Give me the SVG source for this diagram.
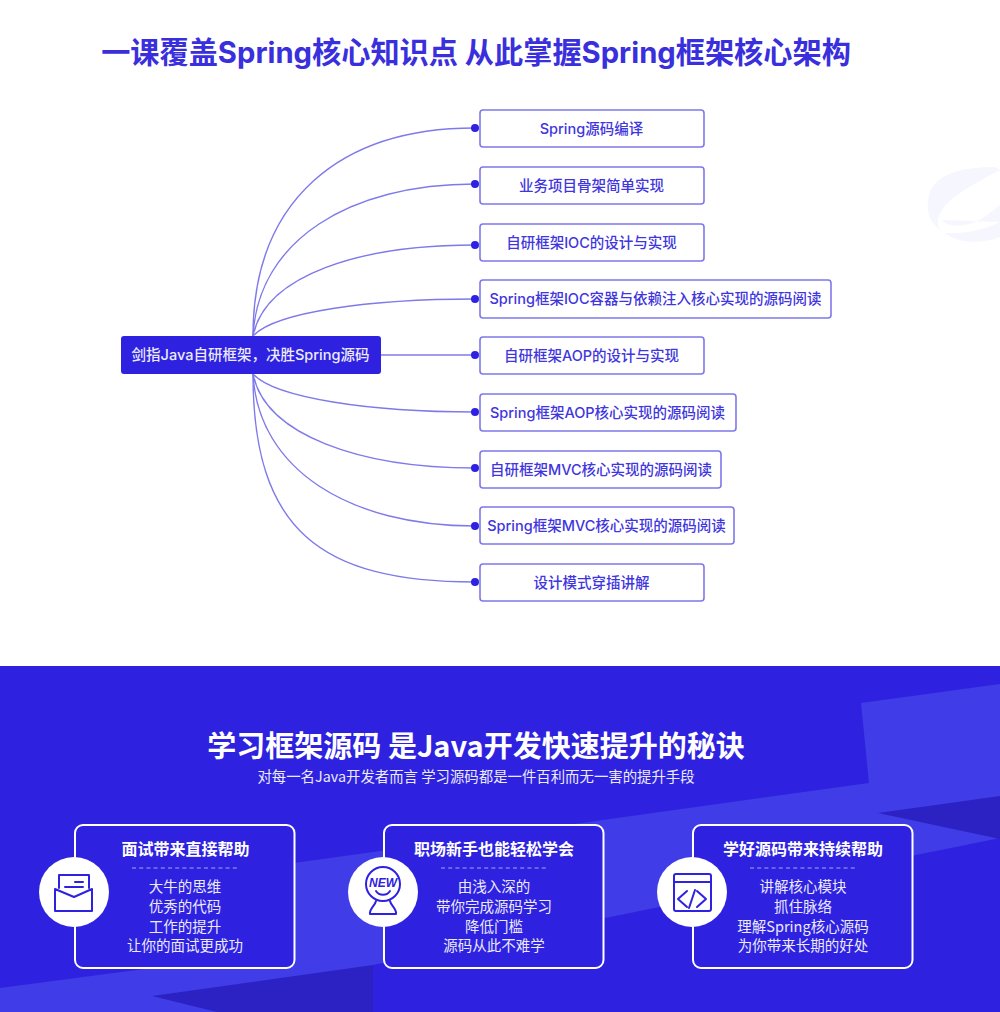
<svg xmlns="http://www.w3.org/2000/svg" width="1000" height="1012" viewBox="0 0 1000 1012">
<style>
text{font-family:"Noto Sans CJK SC","Noto Sans",sans-serif;text-anchor:middle}
.l{font-family:Inter,"Noto Sans CJK SC",sans-serif}
.n rect{fill:#fff;stroke:#7d78ea;stroke-width:1.6}
.n text{font-size:14.5px;font-weight:500;fill:#3f36de}
.c path{fill:none;stroke:#7f7aea;stroke-width:1.4}
.c circle{fill:#2e22e0}
.f{fill:#2e22e0;stroke:#fff;stroke-width:2}
.h{font-size:16px;font-weight:700;fill:#fff}
.b{font-size:14.5px;fill:#eceafd}
.d{stroke:#a8a4f3;stroke-width:1.2;stroke-dasharray:4 3.2}
.i{fill:none;stroke:#2e22e0;stroke-width:2;stroke-linejoin:round;stroke-linecap:round}
</style>
<rect width="1000" height="1012" fill="#fff"/>
<path d="M995 167C965 167 932 172 928 200C926 214 932 224 940 230C934 218 942 205 960 193C975 183 990 175 1000 170Z" fill="#f6f6fe"/>
<path d="M942 220C950 230 975 226 990 213L1000 205V222C985 230 965 234 945 233C960 245 985 243 1000 237V222Z" fill="#f6f6fe"/>
<text class="l" x="476" y="63" font-size="29.200" font-weight="700" fill="#3a2fdd">一课覆盖Spring核心知识点 从此掌握Spring框架核心架构</text>
<g class="c" id="connectors">
<path d="M253 336C253 200 340 128 475 128"/>
<path d="M253 336C258 240 350 184 475 184"/>
<path d="M253 336C265 275 360 245 475 245"/>
<path d="M253 336C275 312 370 299 475 299"/>
<path d="M381 355H475"/>
<path d="M253 374C275 398 370 412 475 412"/>
<path d="M253 374C265 435 360 468 475 468"/>
<path d="M253 374C258 470 350 526 475 526"/>
<path d="M253 374C253 530 320 582 475 582"/>
<circle cx="475" cy="128" r="4"/><circle cx="475" cy="184" r="4"/><circle cx="475" cy="245" r="4"/><circle cx="475" cy="299" r="4"/><circle cx="475" cy="355" r="4"/><circle cx="475" cy="412" r="4"/><circle cx="475" cy="468" r="4"/><circle cx="475" cy="526" r="4"/><circle cx="475" cy="582" r="4"/>
</g>
<g id="root"><rect x="121" y="336" width="260" height="38" rx="3" fill="#2e22e0"/><text class="l" x="250.500" y="360" font-size="14.500" font-weight="500" fill="#eceafd">剑指Java自研框架，决胜Spring源码</text></g>
<g class="n" id="n1"><rect x="480" y="110" width="224" height="37" rx="3"/><text class="l" x="591.500" y="134">Spring源码编译</text></g>
<g class="n" id="n2"><rect x="480" y="167" width="224" height="37" rx="3"/><text class="l" x="591.500" y="191">业务项目骨架简单实现</text></g>
<g class="n" id="n3"><rect x="480" y="224" width="224" height="37" rx="3"/><text class="l" x="591.500" y="248">自研框架IOC的设计与实现</text></g>
<g class="n" id="n4"><rect x="480" y="280" width="351" height="38" rx="3"/><text class="l" x="655.500" y="304">Spring框架IOC容器与依赖注入核心实现的源码阅读</text></g>
<g class="n" id="n5"><rect x="480" y="337" width="224" height="37" rx="3"/><text class="l" x="591.500" y="361">自研框架AOP的设计与实现</text></g>
<g class="n" id="n6"><rect x="480" y="394" width="256" height="37" rx="3"/><text class="l" x="607.500" y="418">Spring框架AOP核心实现的源码阅读</text></g>
<g class="n" id="n7"><rect x="480" y="451" width="241" height="37" rx="3"/><text class="l" x="601" y="475">自研框架MVC核心实现的源码阅读</text></g>
<g class="n" id="n8"><rect x="480" y="507" width="254" height="37" rx="3"/><text class="l" x="606.500" y="531">Spring框架MVC核心实现的源码阅读</text></g>
<g class="n" id="n9"><rect x="480" y="564" width="224" height="37" rx="3"/><text class="l" x="591.500" y="588">设计模式穿插讲解</text></g>
<rect y="666" width="1000" height="346" fill="#2e22e0"/>
<path d="M861 703L1000 684V838L373 965V1012H0V988L250 955V869L869 783Z" fill="#3f3ce8"/>
<path d="M878 813L1000 796V839Z" fill="#2c22c4"/>
<path d="M152 996L373 965V1012H217Z" fill="#2c22c4"/>
<text x="476" y="757" font-size="29" font-weight="700" fill="#fff">学习框架源码 是Java开发快速提升的秘诀</text>
<text x="476" y="782" font-size="14.4" fill="#eceafd">对每一名Java开发者而言 学习源码都是一件百利而无一害的提升手段</text>
<g class="card" id="card1"><rect class="f" x="75" y="825" width="219.500" height="143" rx="8"/><circle cx="74" cy="892" r="35" fill="#fff"/>
<text class="h" x="185.500" y="855">面试带来直接帮助</text><line class="d" x1="132" y1="868" x2="238" y2="868"/>
<text class="b" x="185" y="892">大牛的思维</text><text class="b" x="185" y="912">优秀的代码</text><text class="b" x="185" y="932">工作的提升</text><text class="b" x="185" y="951">让你的面试更成功</text>
<path class="i" d="M59 888V875H89V888M55 889V911H92V889L74 897ZM65 887H83M75 882H83"/></g>
<g class="card" id="card2"><rect class="f" x="384" y="825" width="219.500" height="143" rx="8"/><circle cx="383" cy="892" r="35" fill="#fff"/>
<text class="h" x="494" y="855">职场新手也能轻松学会</text><line class="d" x1="441" y1="868" x2="547" y2="868"/>
<text class="b" x="494" y="892">由浅入深的</text><text class="b" x="494" y="912">带你完成源码学习</text><text class="b" x="494" y="932">降低门槛</text><text class="b" x="494" y="951">源码从此不难学</text>
<circle class="i" cx="383" cy="884" r="17"/><path class="i" d="M376 891C379 896 387 896 390 891M376 901C375 906 369 909 370 914H396C397 909 391 906 390 901"/>
<text x="383" y="887" font-size="12" font-weight="700" font-style="italic" style="font-family:'Liberation Sans',sans-serif" fill="#2e22e0">NEW</text></g>
<g class="card" id="card3"><rect class="f" x="693" y="825" width="219.500" height="143" rx="8"/><circle cx="692" cy="892" r="35" fill="#fff"/>
<text class="h" x="803" y="855">学好源码带来持续帮助</text><line class="d" x1="750" y1="868" x2="856" y2="868"/>
<text class="b" x="803" y="892">讲解核心模块</text><text class="b" x="803" y="912">抓住脉络</text><text class="b" x="803" y="932">理解Spring核心源码</text><text class="b" x="803" y="951">为你带来长期的好处</text>
<rect class="i" x="674" y="874" width="37" height="37" rx="2"/><path class="i" d="M674 882H711M687 891L678 899L687 907M697 891L706 899L697 907M695 890L689 908"/></g>
</svg>
